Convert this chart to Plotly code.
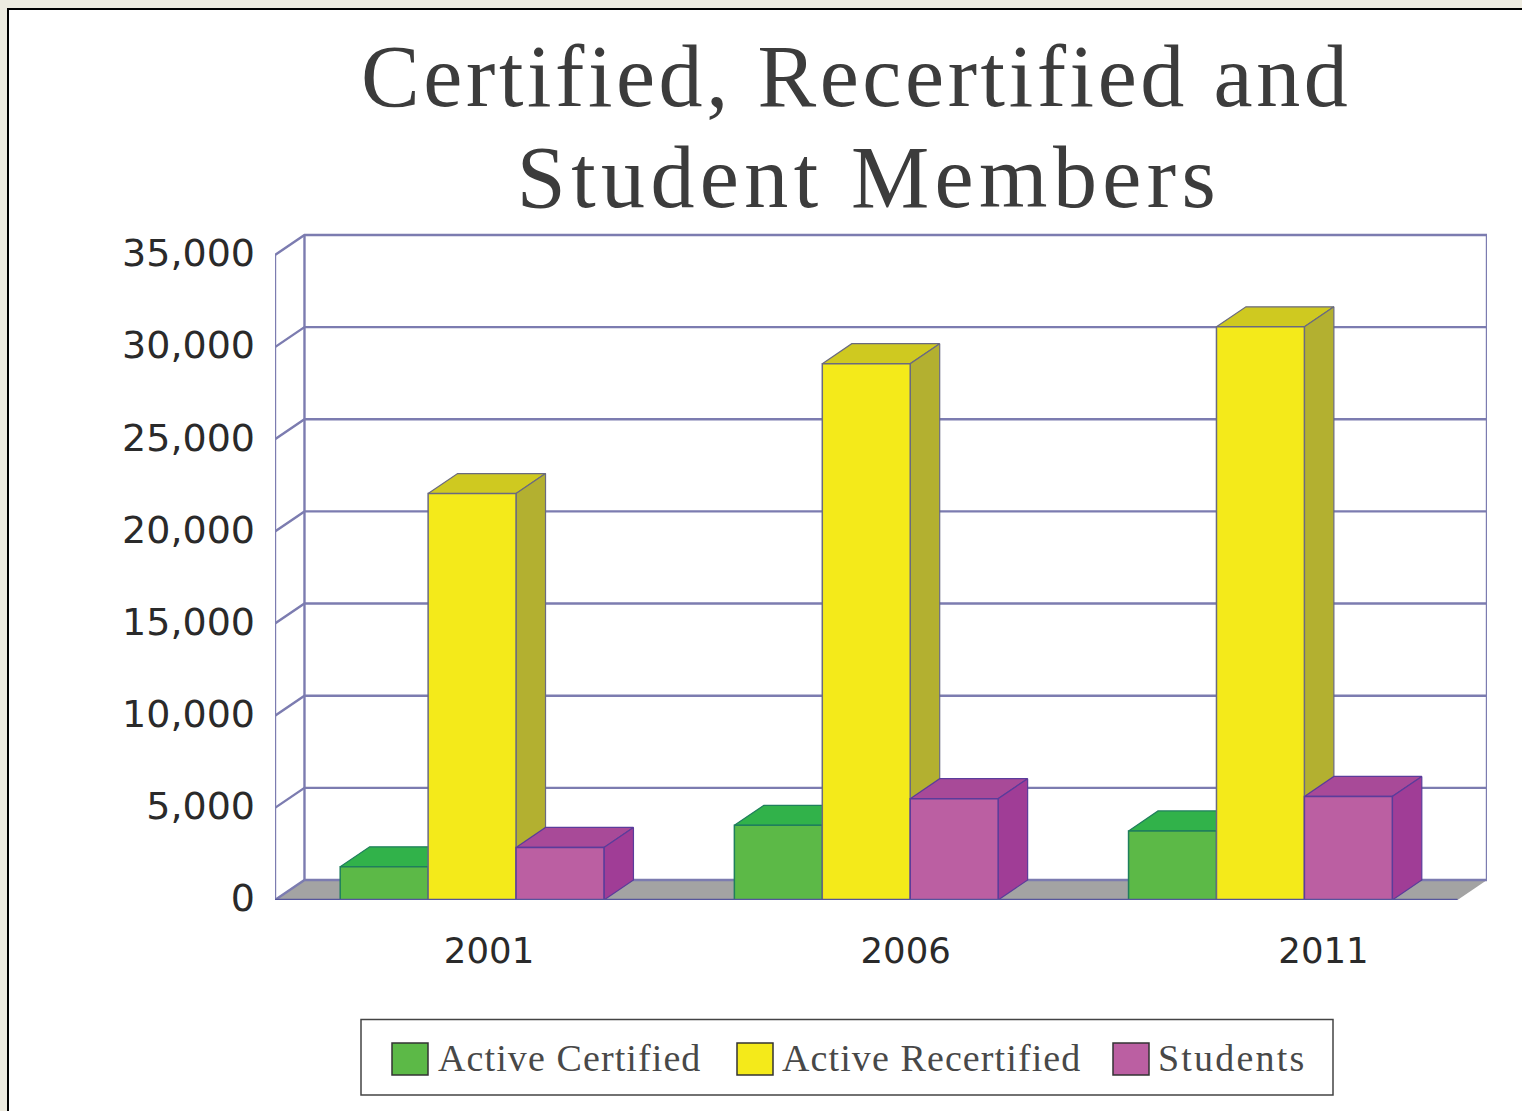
import plotly.graph_objects as go

# ---- data ----
years = ["2001", "2006", "2011"]
active_certified = [1800, 4050, 3750]
active_recertified = [22050, 29100, 31100]
students = [2850, 5500, 5620]
y_ticks = [0, 5000, 10000, 15000, 20000, 25000, 30000, 35000]
y_tick_labels = ["0", "5,000", "10,000", "15,000", "20,000", "25,000", "30,000", "35,000"]
series_names = ["Active Certified", "Active Recertified", "Students"]

# ---- style ----
W, H = 1522, 1111
L, R, T, B = 275, 1487, 225, 900
X_POS = [0, 1, 2]
X_LABEL_POS = [0.043, 1.10, 2.16]
PX_X = 394.5
PX_Y = 92.15
DX = 29.5 / PX_X
DY = 20 / PX_Y * 5000
BAR_W = 88 / PX_X
YMAX = (B - T) / PX_Y * 5000
XR = [-0.5, 2.5 + DX]
YR = [0, YMAX]
GRID = "#7c7cb0"
front = ["#5cb947", "#f4ea1a", "#bb5fa2"]
edge = ["#1f7f5c", "#6a6a80", "#5b3c9b"]
top_c = ["#31b24a", "#cfc920", "#a84a98"]
side_c = ["#2fa544", "#b3b030", "#a03d96"]
values = [active_certified, active_recertified, students]
legend_spacing = [1.1, 1.1, 2.2]

fig = go.Figure()

def poly(xs, ys, fill, line=None, width=1.2, axes=("x", "y")):
    fig.add_trace(go.Scatter(x=xs, y=ys, mode="lines", fill="toself" if fill else None, fillcolor=fill,
                             line=dict(color=line or fill, width=width), showlegend=False,
                             hoverinfo="skip", xaxis=axes[0], yaxis=axes[1], cliponaxis=False))

# floor
poly([XR[0], 2.5, 2.5 + DX, XR[0] + DX, XR[0]], [0, 0, DY, DY, 0], "#a3a3a3", "#a3a3a3", 0)

# walls
gx, gy = [], []
for v in y_ticks:
    gx += [XR[0], XR[0] + DX, 2.5 + DX, None]
    gy += [v, v + DY, v + DY, None]
gx += [XR[0], XR[0], None, XR[0] + DX, XR[0] + DX, None, 2.5 + DX, 2.5 + DX]
gy += [0, 35000, None, DY, 35000 + DY, None, DY, 35000 + DY]
poly(gx, gy, None, GRID, 2.4)

# bar tops and sides, computed from the data
for i, vals in enumerate(values):
    tx, ty, sx, sy = [], [], [], []
    for c, v in zip(X_POS, vals):
        x0 = c + (i - 1.5) * BAR_W
        x1 = x0 + BAR_W
        tx += [x0, x1, x1 + DX, x0 + DX, x0, None]
        ty += [v, v, v + DY, v + DY, v, None]
        sx += [x1, x1, x1 + DX, x1 + DX, x1, None]
        sy += [0, v, v + DY, DY, 0, None]
    poly(tx, ty, top_c[i], edge[i])
    poly(sx, sy, side_c[i], edge[i])

# bar fronts
for i, vals in enumerate(values):
    fig.add_trace(go.Bar(x=X_POS, y=vals, name=series_names[i], marker=dict(color=front[i], line=dict(color=edge[i], width=1.5)),
                         xaxis="x2", yaxis="y2", showlegend=False, cliponaxis=False))

# front floor edge
poly([XR[0], 2.5], [0, 0], None, "#55559c", 2.5, axes=("x2", "y2"))

def px(x): return (x - L) / (R - L)
def py(y): return (B - y) / (B - T)

shapes = [dict(type="rect", xref="paper", yref="paper", x0=px(8), x1=px(1560), y0=py(9), y1=py(1150),
               fillcolor="#ffffff", line=dict(color="#000000", width=2), layer="below"),
          dict(type="rect", xref="paper", yref="paper", x0=px(361), x1=px(1333), y0=py(1019.5), y1=py(1095),
               fillcolor="#ffffff", line=dict(color="#444444", width=1.5))]
annotations = []
for name, col, sx, tx, ls in zip(series_names, front, [392, 737, 1113], [436, 780, 1156], legend_spacing):
    shapes.append(dict(type="rect", xref="paper", yref="paper", x0=px(sx), x1=px(sx + 36), y0=py(1043), y1=py(1075),
                       fillcolor=col, line=dict(color="#333333", width=1.5)))
    annotations.append(dict(xref="paper", yref="paper", x=px(tx), y=py(1058),
                            text=f'<span style="letter-spacing:{ls}px">{name}</span>', showarrow=False,
                            xanchor="left", yanchor="middle", font=dict(family="Liberation Serif", size=38, color="#484848")))

fig.update_layout(
    width=W, height=H, margin=dict(l=L, r=W - R, t=T, b=H - B, pad=0), autosize=False,
    paper_bgcolor="#edebe0", plot_bgcolor="rgba(0,0,0,0)",
    barmode="group", bargap=1 - 3 * BAR_W, bargroupgap=0, showlegend=False,
    title=dict(text='<span style="font-size:88px;letter-spacing:3.6px">Certified, Recertified and\u00a0</span><br>'
                    '<span style="font-size:88px;letter-spacing:5.4px">Student Members</span>',
               x=869 / W, xanchor="center", y=1 - 106 / H, yanchor="bottom", xref="container", yref="container",
               font=dict(family="Liberation Serif", size=78, color="#3c3c3c")),
    xaxis=dict(range=XR, showgrid=False, zeroline=False, showline=False, tickmode="array", tickvals=X_LABEL_POS, ticktext=years,
               ticks="", ticklabelstandoff=26, tickfont=dict(family="DejaVu Sans", size=35.5, color="#2a2a2a")),
    yaxis=dict(range=YR, showgrid=False, zeroline=False, showline=False, tickmode="array", tickvals=y_ticks, ticktext=y_tick_labels,
               ticks="", ticklabelstandoff=19, ticklabelshift=-2, tickfont=dict(family="DejaVu Sans", size=38, color="#2a2a2a")),
    xaxis2=dict(range=XR, overlaying="x", visible=False),
    yaxis2=dict(range=YR, overlaying="y", visible=False),
    shapes=shapes, annotations=annotations,
)

fig.write_html("out.html", config=dict(displayModeBar=False),
               post_script="document.body.style.margin='0';document.body.style.overflow='hidden';document.body.style.background='#edebe0';")
